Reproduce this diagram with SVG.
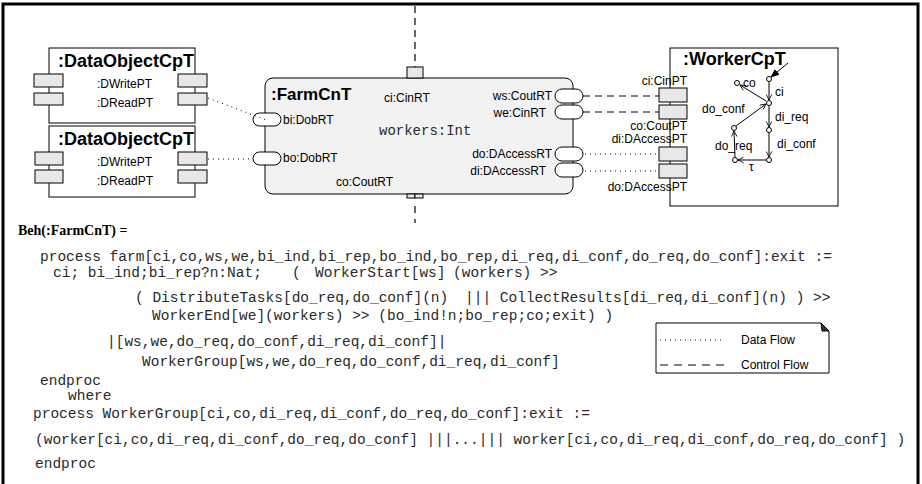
<svg xmlns="http://www.w3.org/2000/svg" width="922" height="484" viewBox="0 0 922 484">
<style>
.lbl{font-family:"Liberation Sans",Arial,sans-serif;font-size:12px;fill:#000}
.ttl{font-family:"Liberation Sans",Arial,sans-serif;font-size:18px;font-weight:bold;fill:#000}
.code{font-family:"Liberation Mono","Courier New",monospace;font-size:14.5px;fill:#2a2a2a;white-space:pre}
.beh{font-family:"Liberation Serif","Times New Roman",serif;font-size:14px;font-weight:bold;fill:#000}
.box{fill:#fff;stroke:#000;stroke-width:1}
.port{fill:#e8e8e8;stroke:#000;stroke-width:1}
.pill{fill:#fff;stroke:#000;stroke-width:1}
.dot{fill:none;stroke:#000;stroke-width:1;stroke-dasharray:1 4}
.dash{fill:none;stroke:#000;stroke-width:1.2;stroke-dasharray:7 5}
.st{fill:#fff;stroke:#000;stroke-width:1}
.tr{fill:none;stroke:#000;stroke-width:1;marker-end:url(#open)}
</style>
<defs>
<marker id="open" viewBox="0 0 10 10" refX="9" refY="5" markerWidth="7" markerHeight="7" orient="auto" markerUnits="userSpaceOnUse">
<path d="M1,1 L9,5 L1,9" fill="none" stroke="#000" stroke-width="1.2"/>
</marker>
<marker id="filled" viewBox="0 0 10 10" refX="9" refY="5" markerWidth="9" markerHeight="9" orient="auto" markerUnits="userSpaceOnUse">
<path d="M0,1 L10,5 L0,9 Z" fill="#000"/>
</marker>
</defs>
<rect x="3" y="4" width="915" height="490" fill="#fff" stroke="#000" stroke-width="3"/>

<g id="dataobject1">
<rect class="box" x="49" y="48" width="146" height="75"/>
<text class="ttl" x="58" y="67">:DataObjectCpT</text>
<rect class="port" x="34" y="74" width="29" height="13"/>
<rect class="port" x="34" y="93" width="29" height="12"/>
<rect class="port" x="178" y="74" width="29" height="13"/>
<rect class="port" x="178" y="93" width="29" height="12"/>
<text class="lbl" x="97" y="88">:DWritePT</text>
<text class="lbl" x="97" y="107">:DReadPT</text>
</g>

<g id="dataobject2">
<rect class="box" x="49" y="126" width="146" height="71"/>
<text class="ttl" x="58" y="145">:DataObjectCpT</text>
<rect class="port" x="35" y="152" width="28" height="13"/>
<rect class="port" x="35" y="170" width="28" height="13"/>
<rect class="port" x="178" y="152" width="29" height="13"/>
<rect class="port" x="178" y="170" width="29" height="13"/>
<text class="lbl" x="97" y="166">:DWritePT</text>
<text class="lbl" x="97" y="185">:DReadPT</text>
</g>

<g id="farm">
<rect x="265" y="78" width="308" height="116" rx="8" fill="#f2f2f2" stroke="#000" stroke-width="1"/>
<rect class="port" x="407" y="67" width="16" height="11"/>
<rect class="port" x="407" y="194" width="8" height="4"/>
<rect class="port" x="415" y="194" width="8" height="4"/>
<text class="ttl" x="271" y="100" style="font-size:17px">:FarmCnT</text>
<text class="lbl" x="384" y="102">ci:CinRT</text>
<text class="code" x="379" y="135" style="font-size:14px">workers:Int</text>
<text class="lbl" x="283" y="124">bi:DobRT</text>
<text class="lbl" x="283" y="162">bo:DobRT</text>
<text class="lbl" x="336" y="186">co:CoutRT</text>
<text class="lbl" x="552" y="100" text-anchor="end">ws:CoutRT</text>
<text class="lbl" x="546" y="117" text-anchor="end">we:CinRT</text>
<text class="lbl" x="552" y="158" text-anchor="end">do:DAccessRT</text>
<text class="lbl" x="546" y="175" text-anchor="end">di:DAccessRT</text>
<rect class="pill" x="253" y="113" width="28" height="13" rx="6.5"/>
<rect class="pill" x="253" y="152" width="28" height="13" rx="6.5"/>
<rect class="pill" x="555" y="89" width="28" height="14" rx="7"/>
<rect class="pill" x="555" y="105" width="28" height="14" rx="7"/>
<rect class="pill" x="555" y="147" width="28" height="14" rx="7"/>
<rect class="pill" x="555" y="163" width="28" height="14" rx="7"/>
</g>

<g id="worker">
<rect class="box" x="670" y="48" width="168" height="158"/>
<text class="ttl" x="683" y="65">:WorkerCpT</text>
<rect class="port" x="659" y="88" width="28" height="14"/>
<rect class="port" x="659" y="105" width="28" height="14"/>
<rect class="port" x="659" y="147" width="28" height="14"/>
<rect class="port" x="659" y="164" width="28" height="14"/>
<text class="lbl" x="687" y="85" text-anchor="end">ci:CinPT</text>
<text class="lbl" x="687" y="130" text-anchor="end">co:CoutPT</text>
<text class="lbl" x="687" y="143" text-anchor="end">di:DAccessPT</text>
<text class="lbl" x="687" y="191" text-anchor="end">do:DAccessPT</text>
<g id="statemachine">
<line x1="788" y1="63" x2="771" y2="77" stroke="#000" stroke-width="1" marker-end="url(#filled)"/>
<line class="tr" x1="769" y1="82" x2="769" y2="100"/>
<line class="tr" x1="766" y1="101" x2="740" y2="85"/>
<line class="tr" x1="769" y1="106" x2="769" y2="127"/>
<line class="tr" x1="769" y1="133" x2="769" y2="157"/>
<line class="tr" x1="766" y1="160" x2="738" y2="160"/>
<line class="tr" x1="735" y1="157" x2="734" y2="131"/>
<line class="tr" x1="736" y1="126" x2="766" y2="104"/>
<circle class="st" cx="769" cy="79" r="2.5"/>
<circle class="st" cx="737" cy="83" r="2.5"/>
<circle class="st" cx="769" cy="103" r="2.5"/>
<circle class="st" cx="769" cy="130" r="2.5"/>
<circle class="st" cx="769" cy="160" r="2.5"/>
<circle class="st" cx="735" cy="160" r="2.5"/>
<circle class="st" cx="734" cy="128" r="2.5"/>
<text class="lbl" x="743" y="87">co</text>
<text class="lbl" x="775" y="96">ci</text>
<text class="lbl" x="775" y="121">di_req</text>
<text class="lbl" x="777" y="148">di_conf</text>
<text class="lbl" x="749" y="171">τ</text>
<text class="lbl" x="715" y="150">do_req</text>
<text class="lbl" x="702" y="113">do_conf</text>
</g>
</g>

<g id="connectors">
<line class="dot" x1="208" y1="98" x2="266" y2="120"/>
<line class="dot" x1="208" y1="159" x2="253" y2="159"/>
<line class="dash" x1="415" y1="6" x2="415" y2="67"/>
<path class="dash" d="M415 206 V213 M415 219 V223" style="stroke-dasharray:none"/>
<line class="dash" x1="583" y1="96" x2="659" y2="96"/>
<line class="dash" x1="583" y1="112" x2="659" y2="112"/>
<line class="dot" x1="585" y1="154" x2="659" y2="154"/>
<line class="dot" x1="585" y1="171" x2="659" y2="171"/>
</g>

<g id="legend">
<path d="M656 323 H821 L829 331 V373 H656 Z" fill="#fff" stroke="#000" stroke-width="1"/>
<path d="M821 323 L829 331 L822 331 Z" fill="#333" stroke="#000" stroke-width="1"/>
<line class="dot" x1="660" y1="340" x2="725" y2="340"/>
<line class="dash" x1="660" y1="365" x2="726" y2="365" style="stroke-dasharray:8 6"/>
<text class="lbl" x="741" y="344">Data Flow</text>
<text class="lbl" x="741" y="369">Control Flow</text>
</g>

<g id="behaviour">
<text class="beh" x="18" y="235">Beh(:FarmCnT) =</text>
<text class="code" x="40" y="261">process farm[ci,co,ws,we,bi_ind,bi_rep,bo_ind,bo_rep,di_req,di_conf,do_req,do_conf]:exit :=</text>
<text class="code" y="277"><tspan x="53">ci; bi_ind;bi_rep?n:Nat;</tspan><tspan x="292">(</tspan><tspan x="315">WorkerStart[ws]</tspan><tspan x="453">(workers) &gt;&gt;</tspan></text>
<text class="code" y="302"><tspan x="135">( DistributeTasks[do_req,do_conf](n)</tspan><tspan x="465">||| CollectResults[di_req,di_conf](n) ) &gt;&gt;</tspan></text>
<text class="code" x="152" y="320">WorkerEnd[we](workers) &gt;&gt; (bo_ind!n;bo_rep;co;exit) )</text>
<text class="code" x="107" y="346">|[ws,we,do_req,do_conf,di_req,di_conf]|</text>
<text class="code" x="142" y="366">WorkerGroup[ws,we,do_req,do_conf,di_req,di_conf]</text>
<text class="code" x="40" y="385">endproc</text>
<text class="code" x="68" y="400">where</text>
<text class="code" x="33" y="418">process WorkerGroup[ci,co,di_req,di_conf,do_req,do_conf]:exit :=</text>
<text class="code" x="35" y="444">(worker[ci,co,di_req,di_conf,do_req,do_conf] |||...||| worker[ci,co,di_req,di_conf,do_req,do_conf] )</text>
<text class="code" x="35" y="468">endproc</text>
</g>
</svg>
